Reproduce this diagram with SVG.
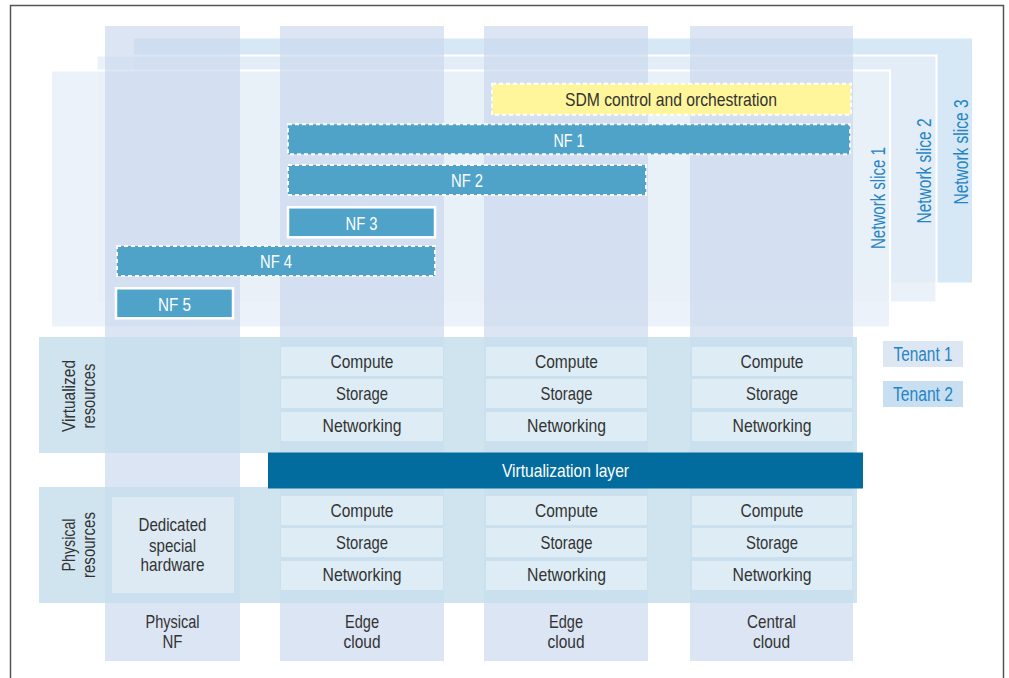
<svg xmlns="http://www.w3.org/2000/svg" width="1009" height="678" viewBox="0 0 1009 678">
<defs>
<style>
text{font-family:"Liberation Sans Narrow","Liberation Sans",Arial,sans-serif;font-size:19px;text-anchor:middle}
.dark{fill:#333333}
.white{fill:#ffffff}
.blue{fill:#2584c6;font-size:20px}
.col{fill:#c9d7ec;fill-opacity:0.65}
.band{fill:#c8dfed;fill-opacity:0.85}
.cell{fill:#deedf5}
.nfd{fill:#4fa3c9;stroke:#ffffff;stroke-width:2;stroke-dasharray:4 3}
.nfs{fill:#4fa3c9;stroke:#ffffff;stroke-width:2.5}
</style>
</defs>
<rect x="0" y="0" width="1009" height="678" fill="#ffffff"/>
<path d="M10.5 678 V5.5 H1003.5 V678" fill="none" stroke="#555555" stroke-width="1.5"/>

<g id="slice3">
<rect x="133" y="37.5" width="840" height="246" fill="#d6e8f5" stroke="#ffffff" stroke-width="2"/>
<text class="blue" transform="translate(968,152) rotate(-90)" textLength="105" lengthAdjust="spacingAndGlyphs">Network slice 3</text>
</g>
<g id="slice2">
<rect x="96.5" y="55.5" width="840" height="247" fill="#e6eef8" fill-opacity="0.8" stroke="#ffffff" stroke-width="2"/>
<text class="blue" transform="translate(930.5,171) rotate(-90)" textLength="105" lengthAdjust="spacingAndGlyphs">Network slice 2</text>
</g>
<g id="slice1">
<rect x="51" y="70.5" width="839" height="257" fill="#e9f0f8" fill-opacity="0.85" stroke="#ffffff" stroke-width="2"/>
<text class="blue" transform="translate(885,198) rotate(-90)" textLength="102" lengthAdjust="spacingAndGlyphs">Network slice 1</text>
</g>

<g id="columns">
<rect class="col" x="105" y="26" width="135" height="635"/>
<rect class="col" x="280" y="26" width="164" height="635"/>
<rect class="col" x="484" y="26" width="164" height="635"/>
<rect class="col" x="690" y="26" width="163" height="635"/>
</g>

<g id="bands">
<rect class="band" x="39" y="337" width="818" height="116"/>
<rect class="band" x="39" y="487" width="818" height="116"/>
</g>

<g id="virtualized-label">
<text class="dark" transform="translate(74.5,396) rotate(-90)" textLength="72" lengthAdjust="spacingAndGlyphs">Virtualized</text>
<text class="dark" transform="translate(94.5,396) rotate(-90)" textLength="65" lengthAdjust="spacingAndGlyphs">resources</text>
</g>
<g id="physical-label">
<text class="dark" transform="translate(74.5,545) rotate(-90)" textLength="53" lengthAdjust="spacingAndGlyphs">Physical</text>
<text class="dark" transform="translate(94.5,545) rotate(-90)" textLength="66" lengthAdjust="spacingAndGlyphs">resources</text>
</g>

<g id="edge1-virtual">
<rect class="cell" x="281" y="347" width="162" height="29"/>
<rect class="cell" x="281" y="379" width="162" height="29"/>
<rect class="cell" x="281" y="412" width="162" height="29"/>
<text class="dark" x="362" y="368" textLength="63" lengthAdjust="spacingAndGlyphs">Compute</text>
<text class="dark" x="362" y="400" textLength="52" lengthAdjust="spacingAndGlyphs">Storage</text>
<text class="dark" x="362" y="432" textLength="79" lengthAdjust="spacingAndGlyphs">Networking</text>
</g>
<g id="edge2-virtual">
<rect class="cell" x="486" y="347" width="161" height="29"/>
<rect class="cell" x="486" y="379" width="161" height="29"/>
<rect class="cell" x="486" y="412" width="161" height="29"/>
<text class="dark" x="566.5" y="368" textLength="63" lengthAdjust="spacingAndGlyphs">Compute</text>
<text class="dark" x="566.5" y="400" textLength="52" lengthAdjust="spacingAndGlyphs">Storage</text>
<text class="dark" x="566.5" y="432" textLength="79" lengthAdjust="spacingAndGlyphs">Networking</text>
</g>
<g id="central-virtual">
<rect class="cell" x="692" y="347" width="160" height="29"/>
<rect class="cell" x="692" y="379" width="160" height="29"/>
<rect class="cell" x="692" y="412" width="160" height="29"/>
<text class="dark" x="772" y="368" textLength="63" lengthAdjust="spacingAndGlyphs">Compute</text>
<text class="dark" x="772" y="400" textLength="52" lengthAdjust="spacingAndGlyphs">Storage</text>
<text class="dark" x="772" y="432" textLength="79" lengthAdjust="spacingAndGlyphs">Networking</text>
</g>

<g id="virtualization-layer">
<rect x="268" y="452.5" width="595" height="36" fill="#036c9e"/>
<text class="white" x="565.5" y="477" textLength="127" lengthAdjust="spacingAndGlyphs">Virtualization layer</text>
</g>

<g id="dedicated-hardware">
<rect x="112" y="497" width="122" height="96" fill="#ddeaf4"/>
<text class="dark" x="172.5" y="531" textLength="68" lengthAdjust="spacingAndGlyphs">Dedicated</text>
<text class="dark" x="172.5" y="552" textLength="47" lengthAdjust="spacingAndGlyphs">special</text>
<text class="dark" x="172.5" y="571" textLength="64" lengthAdjust="spacingAndGlyphs">hardware</text>
</g>
<g id="edge1-physical">
<rect class="cell" x="281" y="496" width="162" height="29"/>
<rect class="cell" x="281" y="528" width="162" height="29"/>
<rect class="cell" x="281" y="561" width="162" height="29"/>
<text class="dark" x="362" y="517" textLength="63" lengthAdjust="spacingAndGlyphs">Compute</text>
<text class="dark" x="362" y="549" textLength="52" lengthAdjust="spacingAndGlyphs">Storage</text>
<text class="dark" x="362" y="581" textLength="79" lengthAdjust="spacingAndGlyphs">Networking</text>
</g>
<g id="edge2-physical">
<rect class="cell" x="486" y="496" width="161" height="29"/>
<rect class="cell" x="486" y="528" width="161" height="29"/>
<rect class="cell" x="486" y="561" width="161" height="29"/>
<text class="dark" x="566.5" y="517" textLength="63" lengthAdjust="spacingAndGlyphs">Compute</text>
<text class="dark" x="566.5" y="549" textLength="52" lengthAdjust="spacingAndGlyphs">Storage</text>
<text class="dark" x="566.5" y="581" textLength="79" lengthAdjust="spacingAndGlyphs">Networking</text>
</g>
<g id="central-physical">
<rect class="cell" x="692" y="496" width="160" height="29"/>
<rect class="cell" x="692" y="528" width="160" height="29"/>
<rect class="cell" x="692" y="561" width="160" height="29"/>
<text class="dark" x="772" y="517" textLength="63" lengthAdjust="spacingAndGlyphs">Compute</text>
<text class="dark" x="772" y="549" textLength="52" lengthAdjust="spacingAndGlyphs">Storage</text>
<text class="dark" x="772" y="581" textLength="79" lengthAdjust="spacingAndGlyphs">Networking</text>
</g>

<g id="column-labels">
<text class="dark" x="172.5" y="628" textLength="54" lengthAdjust="spacingAndGlyphs">Physical</text>
<text class="dark" x="172.5" y="648" textLength="20" lengthAdjust="spacingAndGlyphs">NF</text>
<text class="dark" x="362" y="628" textLength="34" lengthAdjust="spacingAndGlyphs">Edge</text>
<text class="dark" x="362" y="648" textLength="37" lengthAdjust="spacingAndGlyphs">cloud</text>
<text class="dark" x="566" y="628" textLength="34" lengthAdjust="spacingAndGlyphs">Edge</text>
<text class="dark" x="566" y="648" textLength="37" lengthAdjust="spacingAndGlyphs">cloud</text>
<text class="dark" x="771.5" y="628" textLength="49" lengthAdjust="spacingAndGlyphs">Central</text>
<text class="dark" x="771.5" y="648" textLength="37" lengthAdjust="spacingAndGlyphs">cloud</text>
</g>

<g id="sdm">
<rect x="492" y="83.7" width="359" height="31" fill="#fff59b" stroke="#ffffff" stroke-width="2" stroke-dasharray="4 3"/>
<text class="dark" x="671" y="105.5" textLength="212" lengthAdjust="spacingAndGlyphs">SDM control and orchestration</text>
</g>
<g id="nf1">
<rect class="nfd" x="288" y="124.3" width="562" height="30"/>
<text class="white" x="569" y="146.5" textLength="31" lengthAdjust="spacingAndGlyphs">NF 1</text>
</g>
<g id="nf2">
<rect class="nfd" x="288" y="165" width="358" height="30"/>
<text class="white" x="467" y="187" textLength="32" lengthAdjust="spacingAndGlyphs">NF 2</text>
</g>
<g id="nf3">
<rect class="nfs" x="288" y="207.3" width="147" height="30"/>
<text class="white" x="361.5" y="229.5" textLength="32" lengthAdjust="spacingAndGlyphs">NF 3</text>
</g>
<g id="nf4">
<rect class="nfd" x="117" y="246" width="318" height="30"/>
<text class="white" x="276" y="268" textLength="32" lengthAdjust="spacingAndGlyphs">NF 4</text>
</g>
<g id="nf5">
<rect class="nfs" x="116" y="288.3" width="117" height="30"/>
<text class="white" x="174.5" y="310.5" textLength="33" lengthAdjust="spacingAndGlyphs">NF 5</text>
</g>

<g id="tenant1">
<rect x="883" y="341" width="80" height="26" fill="#dde6f3"/>
<text class="blue" x="923" y="361" textLength="59" lengthAdjust="spacingAndGlyphs">Tenant 1</text>
</g>
<g id="tenant2">
<rect x="883" y="381" width="80" height="26" fill="#c8dff1"/>
<text class="blue" x="923" y="401" textLength="60" lengthAdjust="spacingAndGlyphs">Tenant 2</text>
</g>
<g id="connectors"></g>
</svg>
